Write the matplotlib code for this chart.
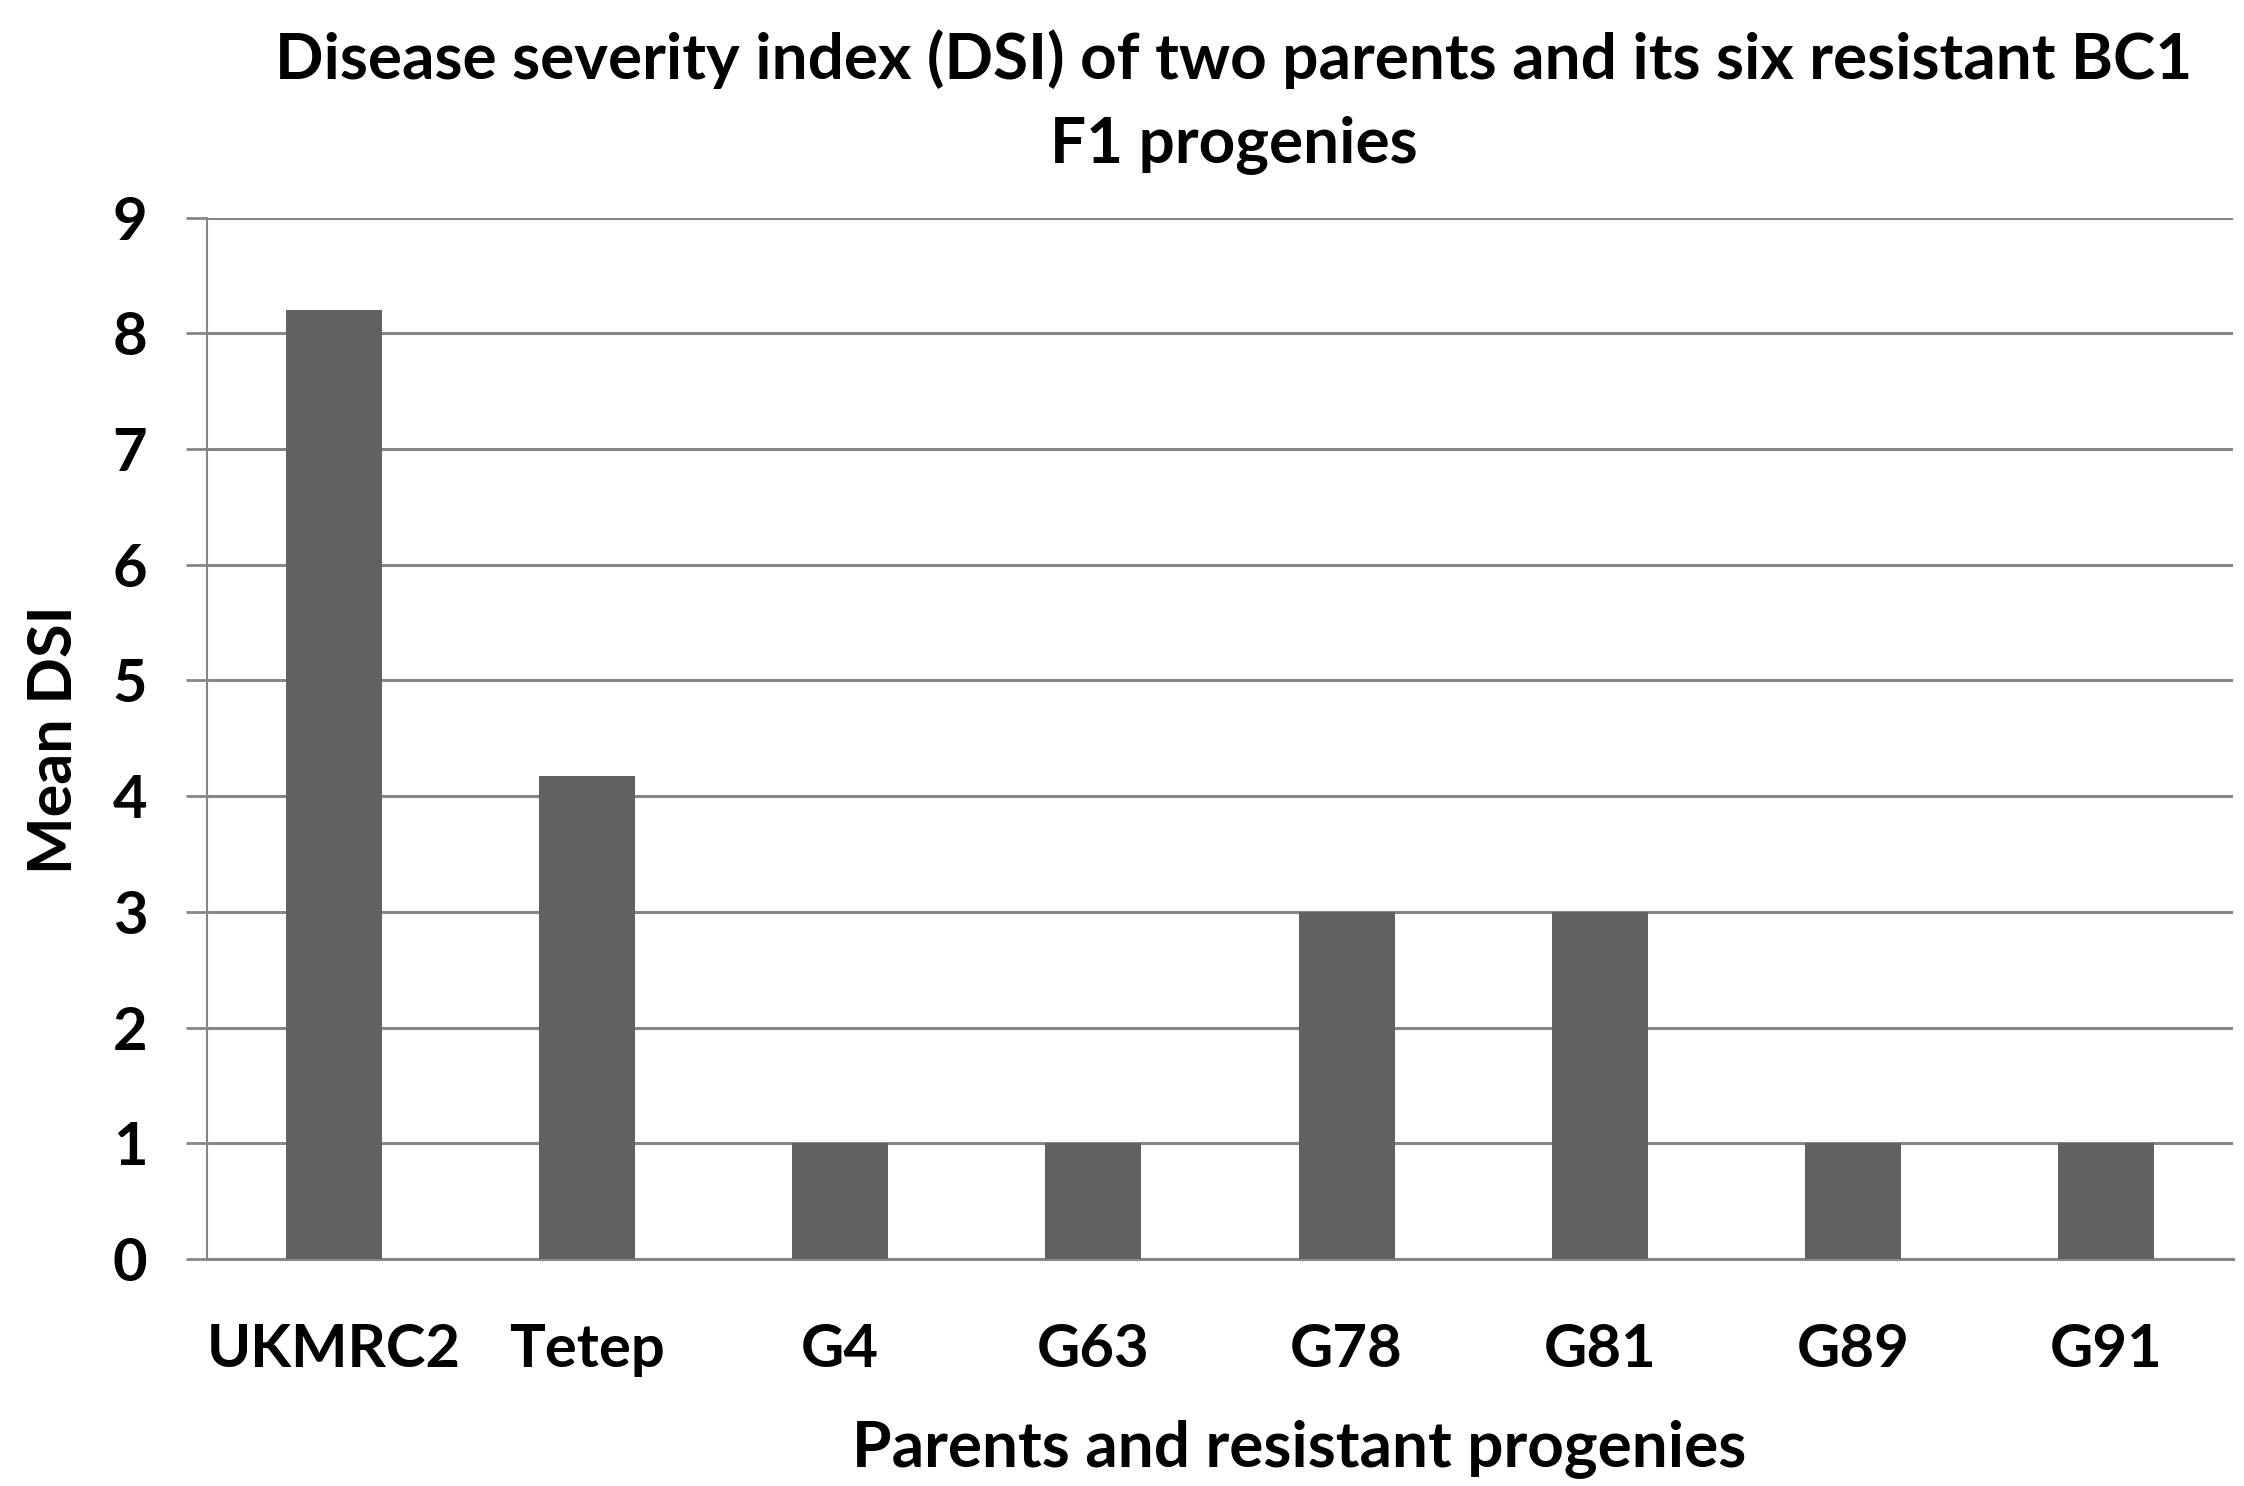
import matplotlib
matplotlib.use("Agg")
import matplotlib.pyplot as plt

categories = ["UKMRC2", "Tetep", "G4", "G63", "G78", "G81", "G89", "G91"]
mean_dsi = [8.2, 4.17, 1, 1, 3, 3, 1, 1]
y_ticks = [0, 1, 2, 3, 4, 5, 6, 7, 8, 9]

title = "Disease severity index (DSI) of two parents and its six resistant BC1\nF1 progenies"
xlabel = "Parents and resistant progenies"
ylabel = "Mean DSI"

plt.rcParams['font.family'] = ['Lato', 'DejaVu Sans']

W, H = 2244, 1486
fig = plt.figure(figsize=(W / 100, H / 100), dpi=100)
ax = fig.add_axes([207 / W, 1 - 1259 / H, (2233 - 207) / W, (1259 - 217.5) / H])

grid_c = "#868686"
ax.set_axisbelow(True)
ax.yaxis.grid(True, color=grid_c, linewidth=2.2)
ax.bar(range(len(categories)), mean_dsi, width=0.38, color="#616161", zorder=3)

ax.set_xlim(-0.5, len(categories) - 0.5)
ax.set_ylim(0, 9)
ax.set_yticks(y_ticks)
ax.set_xticks(range(len(categories)))
ax.set_xticklabels(categories)

for s in ["top", "right"]:
    ax.spines[s].set_visible(False)
ax.spines["left"].set_color(grid_c)
ax.spines["left"].set_linewidth(1.5)
ax.spines["bottom"].set_color(grid_c)
ax.spines["bottom"].set_linewidth(2.2)

ax.tick_params(axis="y", length=15, width=2, color=grid_c, pad=28,
               labelsize=43)
ax.tick_params(axis="x", length=0, pad=46, labelsize=43)
for lbl in ax.get_xticklabels() + ax.get_yticklabels():
    lbl.set_fontweight("bold")

ax.set_xlabel(xlabel, fontsize=46, fontweight="bold")
ax.xaxis.label.set_va("center")
ax.xaxis.set_label_coords((1299 - 207) / (2233 - 207), -(1449 - 1259) / (1259 - 217.5))

fig.text(54 / W, 1 - 740 / H, ylabel, rotation=90, ha="center", va="center",
         fontsize=44, fontweight="bold")

fig.text(1234 / W, 1 - 101.5 / H, title, ha="center", va="center",
         fontsize=46, fontweight="bold", linespacing=1.55)

fig.savefig("out.png", dpi=100, facecolor="white")
